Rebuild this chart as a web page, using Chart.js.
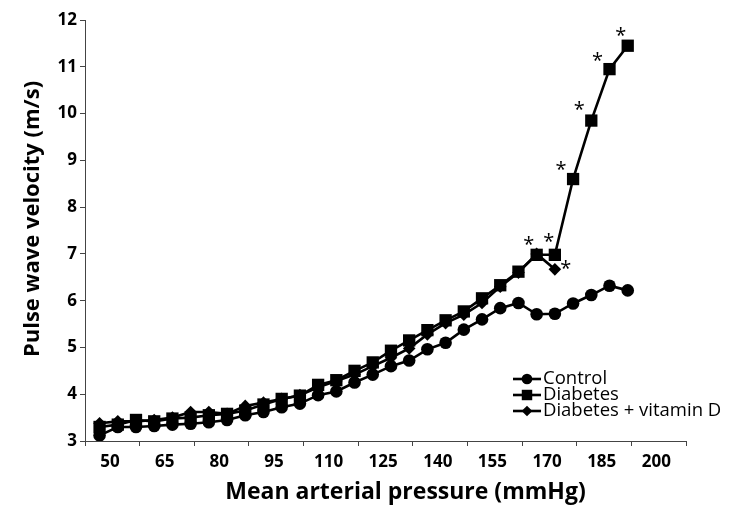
<!DOCTYPE html>
<html>
<head>
<meta charset="utf-8">
<script src="https://cdn.jsdelivr.net/npm/chart.js@4/dist/chart.umd.min.js"></script>
<style>
  html, body { margin: 0; padding: 0; background: #fff; }
  #wrap { width: 730px; height: 507px; }
</style>
</head>
<body>
<div id="wrap"><canvas id="pwv-chart"></canvas></div>
<script>
// mean arterial pressure (mmHg)
const pressure = [50, 55, 60, 65, 70, 75, 80, 85, 90, 95, 100, 105, 110, 115, 120,
  125, 130, 135, 140, 145, 150, 155, 160, 165, 170, 175, 180, 185, 190, 195];

// pulse wave velocity (m/s)
const control = [3.12, 3.3, 3.3, 3.32, 3.35, 3.37, 3.4, 3.45, 3.55, 3.62, 3.72, 3.8,
  3.98, 4.06, 4.25, 4.42, 4.6, 4.72, 4.96, 5.1, 5.38, 5.6, 5.84, 5.95, 5.71, 5.72,
  5.94, 6.12, 6.32, 6.22];
const diabetes = [3.3, 3.35, 3.45, 3.42, 3.48, 3.5, 3.55, 3.58, 3.65, 3.78, 3.9, 3.97,
  4.2, 4.3, 4.5, 4.68, 4.93, 5.15, 5.37, 5.58, 5.77, 6.05, 6.33, 6.62, 6.98, 6.98,
  8.6, 9.85, 10.95, 11.45];
const diabetesVitD = [3.38, 3.42, 3.42, 3.45, 3.5, 3.62, 3.62, 3.58, 3.75, 3.82, 3.9,
  3.98, 4.15, 4.28, 4.42, 4.6, 4.78, 4.98, 5.28, 5.52, 5.7, 5.95, 6.3, 6.6, 7.0, 6.67];

const seriesNames = ["Control", "Diabetes", "Diabetes + vitamin D"];
const xTickLabels = ["50", "65", "80", "95", "110", "125", "140", "155", "170", "185", "200"];

// significance markers: [dataset index, point index]
const stars = [[2, 24], [1, 25], [2, 25], [1, 26], [1, 27], [1, 28], [1, 29]];
const starOffsets = [[-8, -13], [-6, -17], [11, -4], [-12, -13], [-12, -14], [-12, -12], [-7, -13]];

const FONT = "'Open Sans', 'DejaVu Sans', sans-serif";
const INK = "#000";

function toPoints(ys) {
  return ys.map((y, i) => ({ x: pressure[i], y: y }));
}

const lineData = {
  datasets: [
    { label: seriesNames[0], data: toPoints(control), pointStyle: "circle", pointRadius: 6.3 },
    { label: seriesNames[1], data: toPoints(diabetes), pointStyle: "rect", pointRadius: 8.7 },
    { label: seriesNames[2], data: toPoints(diabetesVitD), pointStyle: "rectRot", pointRadius: 6.3 },
  ].map((d) => Object.assign(d, {
    borderColor: INK,
    backgroundColor: INK,
    borderWidth: 2.6,
    pointBorderWidth: 0,
    pointHoverRadius: d.pointRadius,
    tension: 0,
  })),
};

const extras = {
  id: "extras",
  afterDatasetsDraw(chart) {
    const ctx = chart.ctx;
    const xs = chart.scales.x;
    const ys = chart.scales.y;
    const area = chart.chartArea;
    ctx.save();
    ctx.fillStyle = INK;
    ctx.strokeStyle = INK;

    // asterisks
    ctx.font = "20px " + FONT;
    ctx.textAlign = "center";
    ctx.textBaseline = "middle";
    stars.forEach(([ds, i], k) => {
      const p = chart.data.datasets[ds].data[i];
      const [dx, dy] = starOffsets[k];
      ctx.fillText("*", xs.getPixelForValue(p.x) + dx, ys.getPixelForValue(p.y) + dy + 4);
    });

    // legend inside the plot
    ctx.font = "18.5px " + FONT;
    ctx.textAlign = "left";
    chart.data.datasets.forEach((d, k) => {
      const y = 379 + k * 16;
      ctx.lineWidth = 2.6;
      ctx.beginPath();
      ctx.moveTo(513, y);
      ctx.lineTo(541, y);
      ctx.stroke();
      Chart.helpers.drawPoint(ctx, {
        pointStyle: d.pointStyle,
        radius: d.pointRadius * 0.85,
        rotation: 0,
        borderWidth: 0,
      }, 527, y);
      ctx.fillText(d.label, 543, y);
    });

    // axis titles
    ctx.font = "bold 23px " + FONT;
    ctx.textAlign = "center";
    ctx.fillText("Mean arterial pressure (mmHg)", (area.left + area.right) / 2 + 20, 492);
    ctx.translate(33, 219);
    ctx.rotate(-Math.PI / 2);
    ctx.font = "bold 22px " + FONT;
    ctx.fillText("Pulse wave velocity (m/s)", 0, 0);
    ctx.restore();
  },
};

const lineConfig = {
  type: "line",
  data: lineData,
  options: {
    responsive: true,
    maintainAspectRatio: false,
    animation: false,
    layout: {
      padding: { top: 20, right: 44, left: 0, bottom: 0 },
    },
    plugins: {
      legend: { display: false },
      tooltip: { enabled: false },
    },
    scales: {
      x: {
        type: "linear",
        min: 46,
        max: 211,
        afterBuildTicks(scale) {
          const t = [];
          for (let v = scale.min; v <= scale.max + 0.01; v += 15) t.push({ value: v });
          scale.ticks = t;
        },
        afterFit(scale) {
          scale.height = 66;
        },
        grid: { drawOnChartArea: false, drawTicks: true, tickLength: 5, color: "#444" },
        border: { color: "#444", width: 1 },
        ticks: {
          autoSkip: false,
          maxRotation: 0,
          labelOffset: 25,
          padding: 6,
          color: INK,
          font: { family: FONT, weight: "bold", size: 17 },
          callback: (v, i) => xTickLabels[i] ?? "",
        },
      },
      y: {
        min: 3,
        max: 12,
        afterFit(scale) {
          scale.width = 85;
        },
        grid: { drawOnChartArea: false, drawTicks: true, tickLength: 5, color: "#444" },
        border: { color: "#444", width: 1 },
        ticks: {
          stepSize: 1,
          padding: 3,
          color: INK,
          font: { family: FONT, weight: "bold", size: 17 },
        },
      },
    },
  },
  plugins: [extras],
};

const pwvChart = new Chart(document.getElementById("pwv-chart"), lineConfig);
</script>
</body>
</html>
